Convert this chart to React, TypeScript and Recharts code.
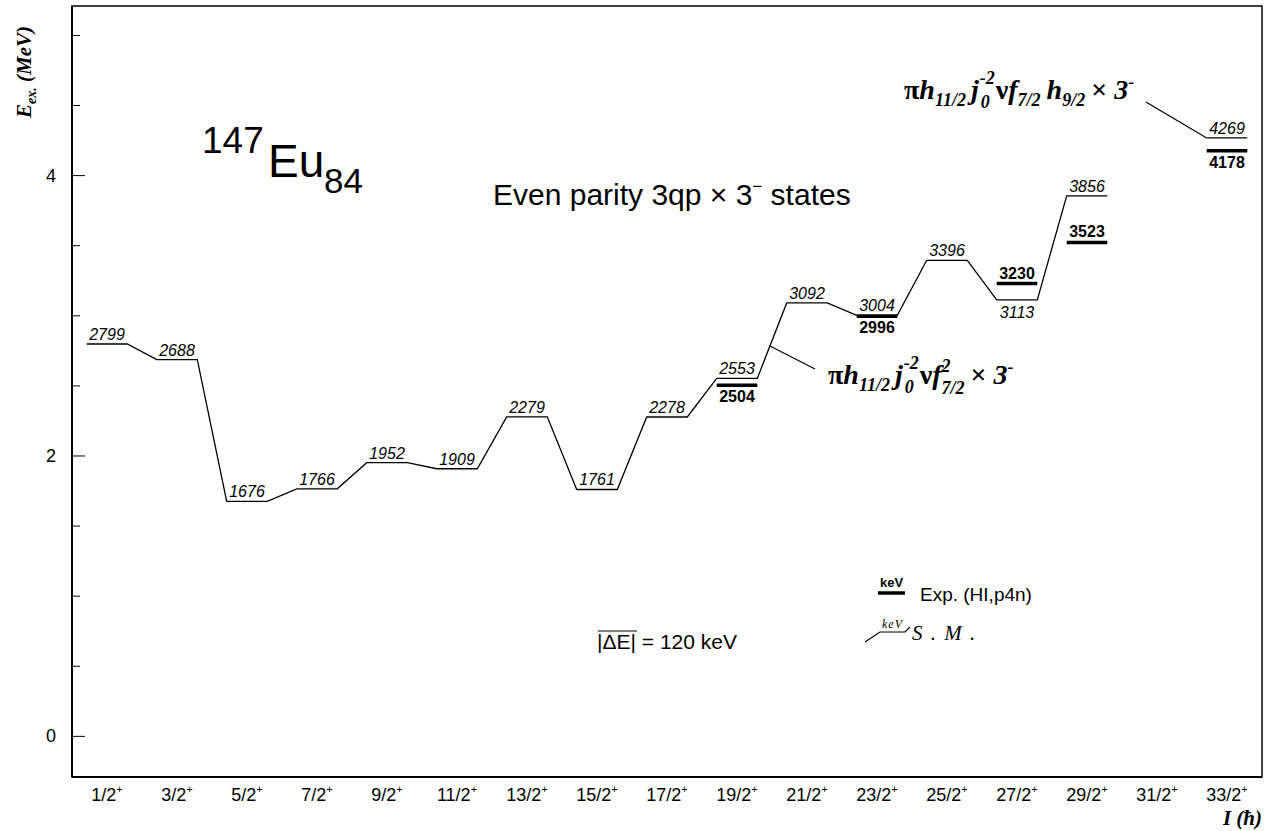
import React from 'react';
import { ComposedChart, Line, Scatter, XAxis, YAxis, ReferenceArea } from 'recharts';

// spins (I^pi = x/2+) along the x axis
const spins = ['1/2', '3/2', '5/2', '7/2', '9/2', '11/2', '13/2', '15/2', '17/2', '19/2', '21/2', '23/2', '25/2', '27/2', '29/2', '31/2', '33/2'];

// shell model energies (keV), null = no state
const smEnergy = [2799, 2688, 1676, 1766, 1952, 1909, 2279, 1761, 2278, 2553, 3092, 3004, 3396, 3113, 3856, null, 4269];

// experimental energies (keV), HI,p4n
const expEnergy = [null, null, null, null, null, null, null, null, null, 2504, null, 2996, null, 3230, 3523, null, 4178];

// label placement
const smLabelBelow = [13];
const expLabelAbove = [13, 14];

const yTicks = [0, 0.5, 1, 1.5, 2, 2.5, 3, 3.5, 4, 4.5, 5];

const W = 1271;
const H = 831;
const HALF = 0.29; // half width of a level, in spin units
const X_DOMAIN = [-0.5, 16.5];
const Y_DOMAIN = [-0.29, 5.21];
const PLOT = { left: 72, top: 6, right: 1262, bottom: 777 };

// pixel helpers for the overlay annotations
const px = (v: number) => PLOT.left + ((v - X_DOMAIN[0]) / (X_DOMAIN[1] - X_DOMAIN[0])) * (PLOT.right - PLOT.left);
const py = (v: number) => PLOT.top + ((Y_DOMAIN[1] - v) / (Y_DOMAIN[1] - Y_DOMAIN[0])) * (PLOT.bottom - PLOT.top);

// level scheme: each state is a short horizontal bar, bars joined by lines
const smLine = smEnergy.flatMap((e, i) =>
  e == null ? [{ x: i, y: null }] : [{ x: i - HALF, y: e / 1000 }, { x: i + HALF, y: e / 1000 }]
);
const expLine = expEnergy.flatMap((e, i) =>
  e == null ? [] : [{ x: i - HALF, y: e / 1000 }, { x: i + HALF, y: e / 1000 }, { x: i + 0.5, y: null }]
);

const smLabels = smEnergy
  .map((e, i) => (e == null ? null : { x: i, y: e / 1000, text: String(e), below: smLabelBelow.includes(i) }))
  .filter(Boolean);
const expLabels = expEnergy
  .map((e, i) => (e == null ? null : { x: i, y: e / 1000, text: String(e), below: !expLabelAbove.includes(i) }))
  .filter(Boolean);

const SANS = '"Liberation Sans", Arial, sans-serif';
const SERIF = '"Liberation Serif", "Times New Roman", serif';

const SmLabel = (props: any) => {
  const { cx, cy, payload } = props;
  return (
    <text x={cx} y={payload.below ? cy + 18 : cy - 4} textAnchor="middle" fontFamily={SANS} fontStyle="italic" fontSize={16} fill="#000">
      {payload.text}
    </text>
  );
};

const ExpLabel = (props: any) => {
  const { cx, cy, payload } = props;
  return (
    <text x={cx} y={payload.below ? cy + 17 : cy - 5} textAnchor="middle" fontFamily={SANS} fontWeight="bold" fontSize={16} fill="#000">
      {payload.text}
    </text>
  );
};

const XTick = ({ x, y, payload }: any) => (
  <text x={x} y={y + 24} textAnchor="middle" fontFamily={SANS} fontSize={18} fill="#000">
    <tspan>{spins[payload.value]}</tspan>
    <tspan fontSize={11} dy={-8}>+</tspan>
  </text>
);

const YTick = ({ x, y, payload }: any) => {
  const major = payload.value % 2 === 0;
  return (
    <g>
      <line x1={x} x2={x + (major ? 13 : 8)} y1={y} y2={y} stroke="#000" strokeWidth={1} />
      {major && (
        <text x={x - 16} y={y + 6} textAnchor="end" fontFamily={SANS} fontSize={18} fill="#000">
          {payload.value}
        </text>
      )}
    </g>
  );
};

// leader from the 19/2 -> 21/2 connector to the lower configuration label
const lowLeadFrac = 0.43;
const lowLead = {
  x: px(9 + HALF) + lowLeadFrac * (px(10 - HALF) - px(9 + HALF)),
  y: py((smEnergy[9] as number) / 1000) + lowLeadFrac * (py((smEnergy[10] as number) / 1000) - py((smEnergy[9] as number) / 1000)),
};
const topLead = { x: px(16 - HALF), y: py((smEnergy[16] as number) / 1000) };

const Annotations = () => (
  <svg width={W} height={H} style={{ position: 'absolute', left: 0, top: 0, pointerEvents: 'none' }}>
    {/* nucleus */}
    <text x={202} y={153} fontFamily={SANS} fontSize={37} fill="#000">147</text>
    <text x={268} y={177} fontFamily={SANS} fontSize={46} fill="#000">Eu</text>
    <text x={324} y={193} fontFamily={SANS} fontSize={35} fill="#000">84</text>

    <text x={493} y={205} fontFamily={SANS} fontSize={30} fill="#000">
      <tspan>Even parity 3qp × 3</tspan>
      <tspan fontSize={17} dy={-13}>−</tspan>
      <tspan dy={13}> states</tspan>
    </text>

    {/* upper configuration */}
    <text x={904} y={99} fontFamily={SERIF} fontWeight="bold" fontStyle="italic" fontSize={28} fill="#000">
      <tspan fontStyle="normal">π</tspan>
      <tspan>h</tspan>
      <tspan fontSize={18} dy={7}>11/2</tspan>
      <tspan dx={5} dy={-7}>j</tspan>
      <tspan fontSize={18} dx={2} dy={9}>0</tspan>
      <tspan fontSize={18} dx={-10} dy={-24}>-2</tspan>
      <tspan fontStyle="normal" dx={1} dy={15}>ν</tspan>
      <tspan>f</tspan>
      <tspan fontSize={18} dy={7}>7/2</tspan>
      <tspan dx={6} dy={-7}>h</tspan>
      <tspan fontSize={18} dy={7}>9/2</tspan>
      <tspan fontStyle="normal" dx={6} dy={-7}>× </tspan>
      <tspan>3</tspan>
      <tspan fontSize={18} dy={-11}>-</tspan>
    </text>
    <line x1={1146} y1={102} x2={topLead.x} y2={topLead.y} stroke="#000" strokeWidth={1.2} />

    {/* lower configuration */}
    <text x={828} y={384} fontFamily={SERIF} fontWeight="bold" fontStyle="italic" fontSize={28} fill="#000">
      <tspan fontStyle="normal">π</tspan>
      <tspan>h</tspan>
      <tspan fontSize={18} dy={7}>11/2</tspan>
      <tspan dx={5} dy={-7}>j</tspan>
      <tspan fontSize={18} dx={2} dy={9}>0</tspan>
      <tspan fontSize={18} dx={-10} dy={-24}>-2</tspan>
      <tspan fontStyle="normal" dx={1} dy={15}>ν</tspan>
      <tspan>f</tspan>
      <tspan fontSize={18} dy={-12}>2</tspan>
      <tspan fontSize={18} dx={-9} dy={22}>7/2</tspan>
      <tspan fontStyle="normal" dx={6} dy={-10}>× </tspan>
      <tspan>3</tspan>
      <tspan fontSize={18} dy={-11}>-</tspan>
    </text>
    <line x1={lowLead.x} y1={lowLead.y} x2={815} y2={369} stroke="#000" strokeWidth={1.2} />

    {/* legend */}
    <line x1={878} x2={905} y1={593} y2={593} stroke="#000" strokeWidth={3.5} />
    <text x={891.5} y={587} textAnchor="middle" fontFamily={SANS} fontWeight="bold" fontSize={13} fill="#000">keV</text>
    <text x={920} y={601} fontFamily={SANS} fontSize={19} fill="#000">Exp. (HI,p4n)</text>

    <polyline points="865,642 880,632 905,632 910,627" fill="none" stroke="#000" strokeWidth={1.2} />
    <text x={892.5} y={628} textAnchor="middle" fontFamily={SERIF} fontStyle="italic" fontSize={12} letterSpacing={1} fill="#000">keV</text>
    <text x={912} y={640} fontFamily={SERIF} fontStyle="italic" fontSize={21} letterSpacing={1.5} fill="#000">S . M .</text>

    <line x1={598} x2={637} y1={631} y2={631} stroke="#000" strokeWidth={1} />
    <text x={597} y={649} fontFamily={SANS} fontSize={21} fill="#000">|ΔE| = 120 keV</text>

    {/* axis titles */}
    <text transform="translate(31,118) rotate(-90)" fontFamily={SERIF} fontWeight="bold" fontStyle="italic" fontSize={21} fill="#000">
      <tspan>E</tspan>
      <tspan fontSize={14} dy={5}>ex.</tspan>
      <tspan dy={-5}> (MeV)</tspan>
    </text>
    <text x={1262} y={825} textAnchor="end" fontFamily={SERIF} fontWeight="bold" fontStyle="italic" fontSize={21} fill="#000">
      I (ħ)
    </text>
  </svg>
);

export default function App() {
  return (
    <div style={{ position: 'absolute', left: 0, top: 0, width: W, height: H, background: '#fff' }}>
      <ComposedChart width={W} height={H} margin={{ top: 6, right: 9, bottom: 24, left: 12 }}>
        <XAxis
          type="number"
          dataKey="x"
          domain={X_DOMAIN}
          ticks={spins.map((_, i) => i)}
          interval={0}
          allowDataOverflow
          height={30}
          tickSize={0}
          tickMargin={0}
          tickLine={false}
          axisLine={{ stroke: '#000', strokeWidth: 2 }}
          tick={<XTick />}
        />
        <YAxis
          type="number"
          dataKey="y"
          domain={Y_DOMAIN}
          ticks={yTicks}
          interval={0}
          allowDataOverflow
          width={60}
          tickSize={0}
          tickMargin={0}
          tickLine={false}
          axisLine={{ stroke: '#000', strokeWidth: 2 }}
          tick={<YTick />}
        />
        <ReferenceArea x1={X_DOMAIN[0]} x2={X_DOMAIN[1]} y1={Y_DOMAIN[0]} y2={Y_DOMAIN[1]} fill="none" stroke="#000" strokeWidth={1.5} />

        <Line data={smLine} dataKey="y" type="linear" stroke="#000" strokeWidth={1.3} dot={false} activeDot={false} connectNulls={false} isAnimationActive={false} />
        <Line data={expLine} dataKey="y" type="linear" stroke="#000" strokeWidth={3.5} strokeLinecap="butt" dot={false} activeDot={false} connectNulls={false} isAnimationActive={false} />

        <Scatter data={smLabels as any[]} dataKey="y" shape={<SmLabel />} isAnimationActive={false} />
        <Scatter data={expLabels as any[]} dataKey="y" shape={<ExpLabel />} isAnimationActive={false} />
      </ComposedChart>
      <Annotations />
    </div>
  );
}
